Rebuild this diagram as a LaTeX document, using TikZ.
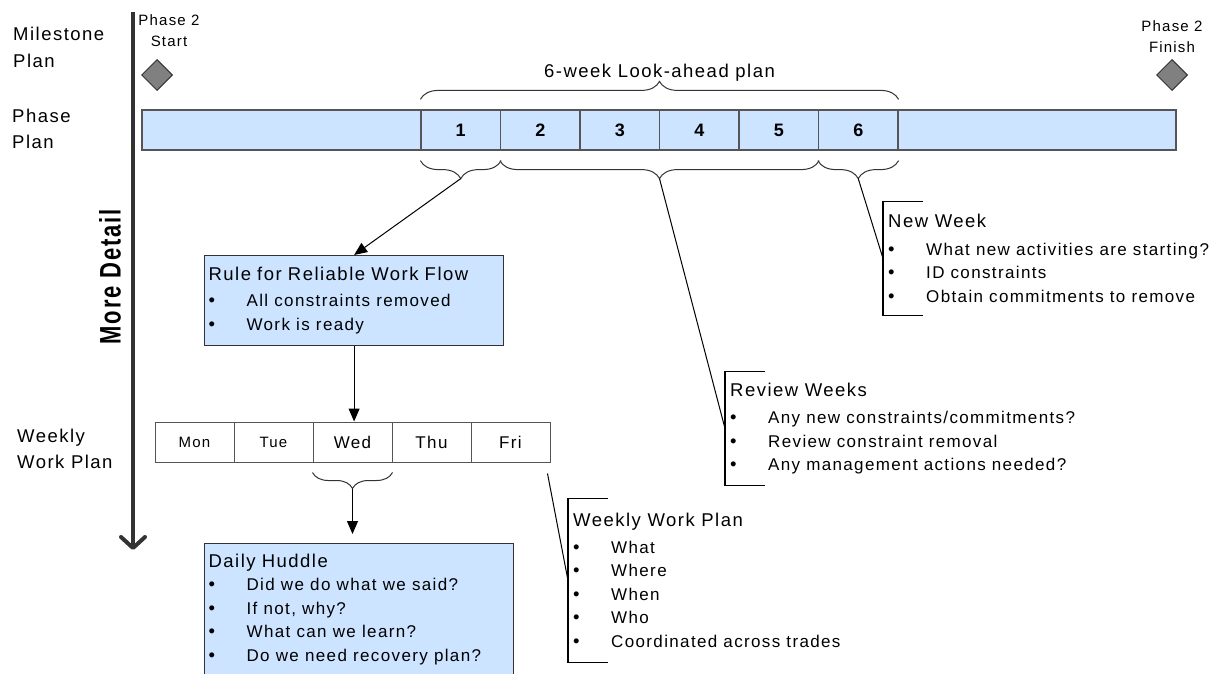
\documentclass[tikz,border=0pt]{standalone}
\usepackage{fontspec}
\setmainfont{Liberation Sans}[LetterSpace=8]
\usepackage{graphicx}
\usetikzlibrary{arrows.meta,positioning,shapes.geometric,decorations.pathreplacing}
\definecolor{planblue}{RGB}{204,228,255}
\definecolor{edgegray}{RGB}{85,85,85}
\definecolor{milestonegray}{RGB}{128,128,128}
\definecolor{axisgray}{RGB}{51,51,51}
\newcommand{\notesize}{\fontsize{17}{23.5}\selectfont}
\newcommand{\itembul}[1]{\makebox[38pt][l]{\textbullet}{\notesize #1}}

\begin{document}
\begin{tikzpicture}[x=1pt, y=-1pt,
  every node/.style={font=\fontsize{18.5}{23.5}\selectfont},
  phasebar/.style={draw=edgegray, fill=planblue, line width=1.2pt, inner sep=0pt},
  week/.style={draw=edgegray, fill=planblue, line width=1.2pt, minimum width=79.5pt, minimum height=40pt, inner sep=0pt, font=\bfseries\fontsize{18}{18}\selectfont},
  daybox/.style={draw=edgegray, line width=1pt, minimum width=79pt, minimum height=40pt, inner sep=0pt},
  bluebox/.style={draw=axisgray, fill=planblue, line width=1.2pt, align=left, inner xsep=4pt, anchor=north west},
  note/.style={align=left, inner xsep=5pt, inner ysep=0pt, anchor=west},
  bracketline/.style={line width=1.2pt},
  topbrace/.style={decorate, decoration={brace, amplitude=18pt}, draw=axisgray, line width=1pt},
  lowbrace/.style={decorate, decoration={brace, amplitude=#1, mirror}, draw=axisgray, line width=1pt},
  lowbrace/.default=18pt,
  feed/.style={-{Triangle[length=13pt,width=11pt]}, line width=1pt},
  lead/.style={line width=1pt},
  milestone/.style={diamond, draw=axisgray, fill=milestonegray, minimum size=31pt, inner sep=0pt, line width=1pt},
  levellabel/.style={align=left, anchor=north west, inner sep=0pt, font=\fontsize{18.5}{26.5}\selectfont},
  milelabel/.style={align=center, anchor=north, inner sep=0pt, font=\fontsize{15}{21}\selectfont},
  detailaxis/.style={draw=axisgray, line width=4pt, -{Straight Barb[length=11pt,width=24pt,round]}}]

\useasboundingbox (0,0) rectangle (1224,674);

% level labels on the left
\node[levellabel] (mslabel) at (13,27) {Milestone\\Plan};
\node[levellabel] (phlabel) at (12,108.5) {Phase\\Plan};
\node[levellabel] (wklabel) at (17,428.5) {Weekly\\Work Plan};

% more detail axis
\coordinate (axistop) at (133,12);
\coordinate (axisend) at (133,550);
\draw[detailaxis] (axistop) -- (axisend);
\node[rotate=90, font=\bfseries\fontsize{22}{22}\selectfont] (moredetail) at (110,277) {\scalebox{1}[1.35]{More Detail}};

% milestones
\node[milelabel] (startlabel) at (169,14) {Phase 2\\Start};
\node[milelabel] (finishlabel) at (1172,20) {Phase 2\\Finish};
\node[milestone] (start) at (157,75) {};
\node[milestone] (finish) at (1172,75) {};

% phase plan with the look-ahead weeks
\node[phasebar, minimum width=1034pt, minimum height=40pt] (bar) at (659,130) {};
\foreach \w in {1,...,6}
  \node[week] (w\w) at ({421+79.5*(\w-0.5)},130) {\w};

\draw[topbrace] ([yshift=10pt]w1.north west) -- node[coordinate, midway, yshift=18pt] (ttop) {} ([yshift=10pt]w6.north east);
\node[above=0pt of ttop, inner sep=0pt] (lookahead) {6-week Look-ahead plan};

\draw[lowbrace] ([yshift=-10pt]w1.south west) -- node[coordinate, midway, yshift=-18pt] (t1) {} ([yshift=-10pt]w1.south east);
\draw[lowbrace] ([yshift=-10pt]w2.south west) -- node[coordinate, midway, yshift=-18pt] (t25) {} ([yshift=-10pt]w5.south east);
\draw[lowbrace] ([yshift=-10pt]w6.south west) -- node[coordinate, midway, yshift=-18pt] (t6) {} ([yshift=-10pt]w6.south east);

% rule box
\node[bluebox, minimum width=299pt, minimum height=90pt, text width=291pt] (rule) at (204,255)
  {Rule for Reliable Work Flow\\[2.5pt]\itembul{All constraints removed}\\\itembul{Work is ready}};

% weekly work plan days
\foreach \d/\s [count=\i] in {Mon/15,Tue/15,Wed/17,Thu/17,Fri/17}
  \node[daybox, font=\fontsize{\s}{\s}\selectfont] (d\i) at ({155+79*(\i-0.5)},442) {\d};

\draw[lowbrace=16pt] ([yshift=-10pt]d3.south west) -- node[coordinate, midway, yshift=-16pt] (twed) {} ([yshift=-10pt]d3.south east);

% daily huddle
\node[bluebox, minimum width=309pt, text width=301pt, inner ysep=10pt] (huddle) at (204,543)
  {Daily Huddle\\\itembul{Did we do what we said?}\\\itembul{If not, why?}\\\itembul{What can we learn?}\\\itembul{Do we need recovery plan?}};

% bracket notes
\node[note, minimum height=113pt] (newweek) at (883,258.5)
  {New Week\\[4pt]\itembul{What new activities are starting?}\\\itembul{ID constraints}\\\itembul{Obtain commitments to remove}};
\node[note, minimum height=113pt] (review) at (725,428.5)
  {Review Weeks\\[4pt]\itembul{Any new constraints/commitments?}\\\itembul{Review constraint removal}\\\itembul{Any management actions needed?}};
\node[note, minimum height=163pt] (wwplan) at (568,580.5)
  {Weekly Work Plan\\[3pt]\itembul{What}\\\itembul{Where}\\\itembul{When}\\\itembul{Who}\\\itembul{Coordinated across trades}};

\foreach \n in {newweek,review,wwplan}
  \draw[bracketline] ([xshift=40pt]\n.north west) -- (\n.north west) -- (\n.south west) -- ([xshift=40pt]\n.south west);

% connectors
\draw[feed] (t1) -- (rule.north);
\draw[lead] (t25) -- (review.west);
\draw[lead] (t6) -- (newweek.west);
\draw[feed] (rule.south) -- (rule.south |- d3.north);
\draw[feed, shorten >=9pt] (twed) -- (twed |- huddle.north);
\coordinate (fricorner) at ([xshift=-3pt,yshift=-11pt]d5.south east);
\draw[lead] (fricorner) -- (wwplan.west);
\end{tikzpicture}
\end{document}
